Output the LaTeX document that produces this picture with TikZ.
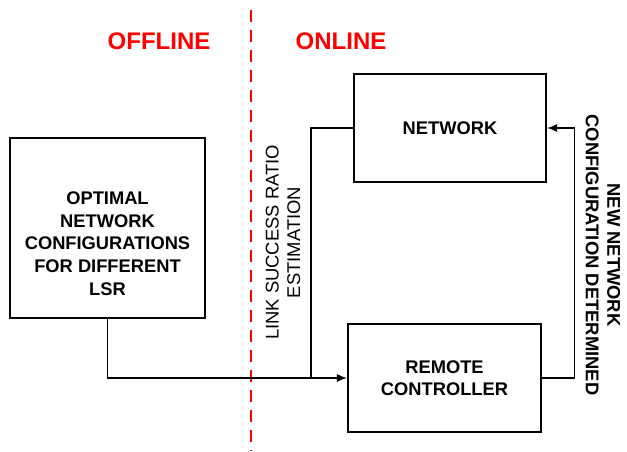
\documentclass[tikz,border=0pt]{standalone}
\usepackage{fontspec}
\setmainfont{Liberation Sans}
\usetikzlibrary{arrows.meta}

\tikzset{
  block/.style={draw, line width=2.2pt, align=center, font=\fontsize{18.3}{22.5}\selectfont\bfseries},
  blocktext/.style={align=center, inner sep=0pt, font=\fontsize{18.3}{22.7}\selectfont\bfseries},
  link/.style={line width=1.2pt},
  side/.style={align=center, inner sep=0pt, font=\fontsize{18.4}{21.5}\selectfont},
  phase/.style={text=red, font=\fontsize{24}{28}\selectfont\bfseries}
}

\begin{document}
\begin{tikzpicture}[x=1pt, y=1pt]
    \useasboundingbox (0,0) rectangle (627,451);

    % offline / online split
    \draw [red, line width=2.7pt, dash pattern=on 12pt off 8pt] (251,441) -- (251,0);
    \node[phase] (offline) at (159,409.5) {OFFLINE};
    \node[phase] (online) at (341,409.5) {ONLINE};

    % blocks
    \node[block, minimum width=192, minimum height=108] (net) at (450,323) {NETWORK};
    \node[draw, line width=2.2pt, minimum width=195, minimum height=180] (lsr) at (107.5,223) {};
    \node[blocktext] (lsrtext) at (107.5,207.5)
    {OPTIMAL\\NETWORK\\CONFIGURATIONS\\FOR DIFFERENT\\LSR};
    \node[block, minimum width=193, minimum height=108] (ctrl) at (444.5,73)
    {REMOTE\\CONTROLLER};

    % connectors
    \path (ctrl.west) ++(-36,0) coordinate (join);
    \draw [link, -{Latex[length=10pt,width=8pt]}] (lsr.south) |- (ctrl.west);
    \draw [link] (net.west) -| (join);
    \draw [link, -{Latex[length=10pt,width=8pt]}] (ctrl.east) -- ++(32,0) |- (net.east);

    % side labels
    \node[side, rotate=90] (est) at (283,208.5) {LINK SUCCESS RATIO\\ESTIMATION};
    \node[side, rotate=-90, font=\fontsize{18.4}{21.5}\selectfont\bfseries] (newconf) at (603,196)
    {NEW NETWORK\\CONFIGURATION DETERMINED};
\end{tikzpicture}
\end{document}
